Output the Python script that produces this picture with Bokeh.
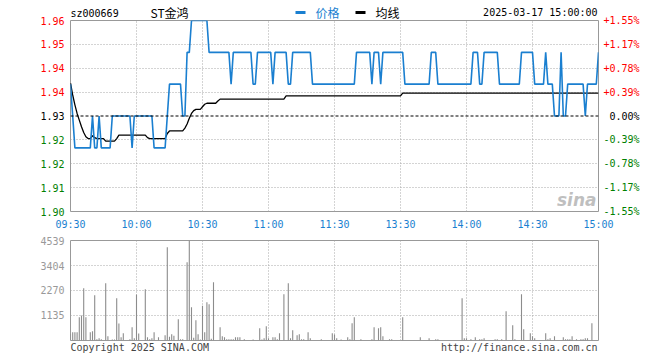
from bokeh.plotting import figure
from bokeh.layouts import column, row
from bokeh.models import Range1d, FixedTicker, Grid, Span
from bokeh.embed import file_html
from bokeh.resources import INLINE
from bokeh.core.properties import value

# ---------------- data ----------------
code = "sz000669"
name = "ST金鸿"
stamp = "2025-03-17 15:00:00"
legend_price = "价格"
legend_avg = "均线"
copyright_txt = "Copyright 2025 SINA.COM"
site_txt = "http://finance.sina.com.cn"
prev_close = 1.93

price_ticks = [1.90, 1.9075, 1.915, 1.9225, 1.93, 1.9375, 1.945, 1.9525, 1.96]
price_labels = ["1.90", "1.91", "1.92", "1.92", "1.93", "1.94", "1.94", "1.95", "1.96"]
pct_labels = ["-1.55%", "-1.17%", "-0.78%", "-0.39%", "0.00%", "+0.39%", "+0.78%", "+1.17%", "+1.55%"]
time_ticks = [0, 30, 60, 90, 120, 150, 180, 210, 240]
time_labels = ["09:30", "10:00", "10:30", "11:00", "11:30", "13:30", "14:00", "14:30", "15:00"]
vol_ticks = [1135, 2270, 3404, 4539]
vol_labels = ["1135", "2270", "3404", "4539"]
vol_max = 4539

price = [
    1.94, 1.93, 1.92, 1.92, 1.92, 1.92, 1.92, 1.92, 1.92, 1.92,
    1.93, 1.92, 1.92, 1.93, 1.92, 1.92, 1.92, 1.92, 1.92, 1.93,
    1.93, 1.93, 1.93, 1.93, 1.93, 1.93, 1.93, 1.93, 1.92, 1.93,
    1.93, 1.93, 1.93, 1.93, 1.93, 1.93, 1.93, 1.93, 1.92, 1.92,
    1.92, 1.92, 1.92, 1.92, 1.93, 1.94, 1.94, 1.94, 1.94, 1.94,
    1.94, 1.93, 1.93, 1.95, 1.95, 1.96, 1.96, 1.96, 1.96, 1.96,
    1.96, 1.96, 1.96, 1.95, 1.95, 1.95, 1.95, 1.95, 1.95, 1.95,
    1.95, 1.95, 1.95, 1.94, 1.95, 1.95, 1.95, 1.95, 1.95, 1.95,
    1.95, 1.95, 1.95, 1.94, 1.94, 1.95, 1.95, 1.95, 1.95, 1.95,
    1.95, 1.95, 1.94, 1.95, 1.95, 1.95, 1.95, 1.95, 1.95, 1.94,
    1.94, 1.95, 1.95, 1.95, 1.95, 1.95, 1.95, 1.95, 1.95, 1.95,
    1.94, 1.94, 1.94, 1.94, 1.94, 1.94, 1.94, 1.94, 1.94, 1.94,
    1.94, 1.94, 1.94, 1.94, 1.94, 1.94, 1.94, 1.94, 1.94, 1.94,
    1.95, 1.95, 1.95, 1.95, 1.95, 1.95, 1.95, 1.94, 1.95, 1.95,
    1.95, 1.94, 1.95, 1.95, 1.95, 1.95, 1.95, 1.95, 1.95, 1.95,
    1.95, 1.95, 1.94, 1.94, 1.94, 1.94, 1.94, 1.94, 1.94, 1.94,
    1.94, 1.94, 1.94, 1.94, 1.95, 1.95, 1.95, 1.94, 1.94, 1.94,
    1.94, 1.94, 1.94, 1.94, 1.94, 1.94, 1.94, 1.94, 1.94, 1.94,
    1.94, 1.94, 1.94, 1.95, 1.95, 1.95, 1.94, 1.94, 1.95, 1.95,
    1.95, 1.95, 1.95, 1.95, 1.95, 1.94, 1.94, 1.94, 1.94, 1.94,
    1.94, 1.94, 1.94, 1.94, 1.94, 1.95, 1.95, 1.95, 1.95, 1.95,
    1.95, 1.94, 1.94, 1.94, 1.94, 1.94, 1.95, 1.94, 1.94, 1.94,
    1.93, 1.93, 1.93, 1.95, 1.93, 1.93, 1.94, 1.94, 1.94, 1.94,
    1.94, 1.94, 1.94, 1.94, 1.93, 1.94, 1.94, 1.94, 1.94, 1.94,
    1.95,
]

avg = [
    1.9403, 1.9366, 1.9335, 1.9308, 1.9287, 1.9266, 1.9248, 1.9235, 1.9229, 1.9229,
    1.9238, 1.9232, 1.9229, 1.9229, 1.9229, 1.9229, 1.9221, 1.9221, 1.9221, 1.9221,
    1.9221, 1.9229, 1.9240, 1.9240, 1.9240, 1.9240, 1.9240, 1.9240, 1.9240, 1.9240,
    1.9240, 1.9240, 1.9240, 1.9240, 1.9240, 1.9232, 1.9229, 1.9229, 1.9229, 1.9229,
    1.9229, 1.9229, 1.9229, 1.9229, 1.9245, 1.9253, 1.9253, 1.9253, 1.9253, 1.9253,
    1.9253, 1.9253, 1.9262, 1.9275, 1.9293, 1.9308, 1.9317, 1.9321, 1.9321, 1.9321,
    1.9329, 1.9337, 1.9340, 1.9340, 1.9340, 1.9340, 1.9340, 1.9347, 1.9353, 1.9353,
    1.9353, 1.9353, 1.9353, 1.9353, 1.9353, 1.9353, 1.9353, 1.9353, 1.9353, 1.9353,
    1.9353, 1.9353, 1.9353, 1.9353, 1.9353, 1.9353, 1.9353, 1.9353, 1.9353, 1.9353,
    1.9353, 1.9353, 1.9353, 1.9353, 1.9353, 1.9353, 1.9353, 1.9353, 1.9363, 1.9363,
    1.9363, 1.9363, 1.9363, 1.9363, 1.9363, 1.9363, 1.9363, 1.9363, 1.9363, 1.9363,
    1.9363, 1.9363, 1.9363, 1.9363, 1.9363, 1.9363, 1.9363, 1.9363, 1.9363, 1.9363,
    1.9363, 1.9363, 1.9363, 1.9363, 1.9363, 1.9363, 1.9363, 1.9363, 1.9363, 1.9363,
    1.9363, 1.9363, 1.9363, 1.9363, 1.9363, 1.9363, 1.9363, 1.9363, 1.9363, 1.9363,
    1.9363, 1.9363, 1.9363, 1.9363, 1.9363, 1.9363, 1.9363, 1.9363, 1.9363, 1.9363,
    1.9363, 1.9372, 1.9372, 1.9372, 1.9372, 1.9372, 1.9372, 1.9372, 1.9372, 1.9372,
    1.9372, 1.9372, 1.9372, 1.9372, 1.9372, 1.9372, 1.9372, 1.9372, 1.9372, 1.9372,
    1.9372, 1.9372, 1.9372, 1.9372, 1.9372, 1.9372, 1.9372, 1.9372, 1.9372, 1.9372,
    1.9372, 1.9372, 1.9372, 1.9372, 1.9372, 1.9372, 1.9372, 1.9372, 1.9372, 1.9372,
    1.9372, 1.9372, 1.9372, 1.9372, 1.9372, 1.9372, 1.9372, 1.9372, 1.9372, 1.9372,
    1.9372, 1.9372, 1.9372, 1.9372, 1.9372, 1.9372, 1.9372, 1.9372, 1.9372, 1.9372,
    1.9372, 1.9372, 1.9372, 1.9372, 1.9372, 1.9372, 1.9372, 1.9372, 1.9372, 1.9372,
    1.9372, 1.9372, 1.9372, 1.9372, 1.9372, 1.9372, 1.9372, 1.9372, 1.9372, 1.9372,
    1.9372, 1.9372, 1.9372, 1.9372, 1.9372, 1.9372, 1.9372, 1.9372, 1.9372, 1.9372,
    1.9372,
]

volume = [
    303, 378, 378, 378, 1059, 1135, 2375, 1059, 0, 378,
    424, 2058, 60, 106, 60, 0, 2602, 197, 0, 45,
    45, 1921, 772, 151, 333, 0, 0, 60, 605, 106,
    2088, 318, 0, 0, 2330, 151, 60, 106, 378, 0,
    151, 0, 0, 242, 4236, 166, 287, 212, 0, 968,
    60, 60, 0, 3556, 4539, 1513, 121, 923, 287, 45,
    1574, 378, 1740, 1649, 75, 2648, 0, 0, 605, 197,
    151, 60, 60, 60, 60, 151, 151, 151, 0, 60,
    0, 0, 0, 45, 0, 0, 560, 45, 106, 650,
    106, 0, 151, 151, 60, 333, 0, 2103, 0, 2602,
    106, 469, 0, 242, 287, 60, 60, 0, 378, 106,
    0, 0, 0, 0, 60, 0, 0, 0, 0, 333,
    270, 106, 0, 45, 0, 0, 151, 60, 787, 1059,
    0, 0, 60, 0, 0, 0, 0, 60, 605, 0,
    560, 605, 197, 0, 0, 60, 60, 0, 0, 0,
    0, 1059, 0, 0, 0, 0, 0, 0, 0, 151,
    0, 0, 0, 106, 0, 0, 60, 60, 0, 0,
    0, 0, 0, 0, 0, 0, 0, 0, 1921, 106,
    106, 0, 60, 0, 151, 0, 60, 60, 106, 0,
    0, 0, 0, 60, 60, 0, 60, 0, 1331, 0,
    0, 696, 60, 0, 0, 2103, 514, 0, 0, 333,
    197, 106, 0, 0, 0, 0, 333, 60, 106, 0,
    197, 0, 0, 0, 151, 60, 60, 60, 197, 0,
    60, 0, 60, 60, 106, 106, 0, 787, 0, 0,
    0,
]

minute = list(range(len(price)))

# ---------------- style / layout constants (pixels) ----------------
MONO = "DejaVu Sans Mono"
CJK = "Noto Sans CJK SC"
BLUE = "#1a7fd0"
GRAY = "#999999"
BAR = "#8c8c8c"
GRID = "#a8a8a8"
RED = "#ff0000"
GREEN = "#008000"

TOTAL_W = 660
LEFT_W = 68          # label column left of the chart
MID_W = 532          # chart column (frame 528 + 2 + 2)
RIGHT_W = 60
FRAME_L, FRAME_R = 70, 598
HEAD_H = 20
PRICE_TOP, PRICE_FRAME, PRICE_BOT = 0, 191, 5
AXIS_H = 18
VOL_TOP, VOL_FRAME, VOL_BOT = 6, 100, 1
FOOT_H = 19


def blank(width, height, x_range=None, y_range=None, left=0, right=0):
    f = figure(width=width, height=height, output_backend="svg", toolbar_location=None,
               x_axis_location=None, y_axis_location=None,
               min_border_left=left, min_border_right=right,
               min_border_top=0, min_border_bottom=0,
               x_range=x_range, y_range=y_range)
    f.grid.visible = False
    f.outline_line_color = None
    f.background_fill_color = "white"
    f.border_fill_color = "white"
    return f


def tcolor(t):
    if t > prev_close + 1e-9:
        return RED
    if t < prev_close - 1e-9:
        return GREEN
    return "black"


xr = Range1d(time_ticks[0], time_ticks[-1])

# ---------------- header (canvas pixel coordinates) ----------------
head = blank(MID_W, HEAD_H, Range1d(FRAME_L, FRAME_R), Range1d(HEAD_H, 0), left=2, right=2)
head.text(x=[70], y=[13], text=[code], text_font=value(MONO), text_font_size="10px",
          text_color="black", text_align="left", text_baseline="middle")
head.text(x=[150], y=[11.6], text=[name], text_font=value(CJK), text_font_size="12px",
          text_color="black", text_align="left", text_baseline="middle")
head.quad(left=[295], right=[305], top=[10.5], bottom=[13.5], fill_color=BLUE, line_color=None)
head.text(x=[315], y=[11.6], text=[legend_price], text_font=value(CJK), text_font_size="12px",
          text_color=BLUE, text_align="left", text_baseline="middle")
head.quad(left=[355], right=[365], top=[10.5], bottom=[13.5], fill_color="black", line_color=None)
head.text(x=[375], y=[11.6], text=[legend_avg], text_font=value(CJK), text_font_size="12px",
          text_color="black", text_align="left", text_baseline="middle")
head.text(x=[597], y=[12.3], text=[stamp], text_font=value(MONO), text_font_size="10px",
          text_color="black", text_align="right", text_baseline="middle")

# ---------------- price panel ----------------
p = figure(width=MID_W, height=PRICE_TOP + PRICE_FRAME + PRICE_BOT, output_backend="svg",
           toolbar_location=None, x_range=xr,
           y_range=Range1d(price_ticks[0], price_ticks[-1]),
           x_axis_location=None, y_axis_location=None,
           min_border_left=2, min_border_right=2,
           min_border_top=PRICE_TOP, min_border_bottom=PRICE_BOT)
p.grid.visible = False
p.outline_line_color = GRAY
p.background_fill_color = "white"
p.border_fill_color = "white"
p.add_layout(Grid(dimension=0, ticker=FixedTicker(ticks=time_ticks[1:-1]),
                  grid_line_color=GRID, grid_line_dash="1 2"))
p.add_layout(Grid(dimension=1, ticker=FixedTicker(ticks=[t for t in price_ticks[1:-1] if t != prev_close]),
                  grid_line_color=GRID, grid_line_dash="1 2"))
p.add_layout(Span(location=prev_close, dimension="width", line_color="black",
                  line_dash="3 2", line_width=1))
p.text(x=[time_ticks[-1]], y=[price_ticks[0]], text=["sina"], x_offset=-2, y_offset=-12,
       text_font=value("DejaVu Sans"), text_font_style="bold italic", text_font_size="17px",
       text_color="#b4b4b4", text_alpha=0.85, text_align="right", text_baseline="middle")
p.line(minute, avg, line_color="black", line_width=1.3)
p.line(minute, price, line_color=BLUE, line_width=1.6)

# label columns sharing the price scale (range extended over the column's borders)
k = (price_ticks[-1] - price_ticks[0]) / PRICE_FRAME
col_h = HEAD_H + PRICE_TOP + PRICE_FRAME + PRICE_BOT
ly0 = price_ticks[0] - PRICE_BOT * k
ly1 = price_ticks[-1] + (HEAD_H + PRICE_TOP) * k
lp = blank(LEFT_W, col_h, Range1d(0, LEFT_W), Range1d(ly0, ly1))
lp.text(x=[64] * len(price_ticks), y=price_ticks, text=price_labels, text_font=value(MONO),
        text_font_size="10px", text_color=[tcolor(t) for t in price_ticks],
        text_align="right", text_baseline="middle")
rp = blank(RIGHT_W, col_h, Range1d(600, 600 + RIGHT_W), Range1d(ly0, ly1))
rp.text(x=[639] * len(price_ticks), y=price_ticks, text=pct_labels, text_font=value(MONO),
        text_font_size="10px", text_color=[tcolor(t) for t in price_ticks],
        text_align="right", text_baseline="middle")

# ---------------- time axis ----------------
ta = figure(width=TOTAL_W, height=AXIS_H, output_backend="svg", toolbar_location=None,
            x_range=xr, y_range=Range1d(0, 1), y_axis_location=None,
            min_border_left=FRAME_L, min_border_right=TOTAL_W - FRAME_R,
            min_border_top=0, min_border_bottom=AXIS_H - 1)
ta.grid.visible = False
ta.outline_line_color = None
ta.background_fill_color = "white"
ta.border_fill_color = "white"
xa = ta.xaxis[0]
xa.ticker = FixedTicker(ticks=time_ticks)
xa.major_label_overrides = {t: l for t, l in zip(time_ticks, time_labels)}
xa.major_label_text_font = MONO
xa.major_label_text_font_size = "10px"
xa.major_label_text_color = BLUE
xa.major_tick_out = 0
xa.major_tick_in = 0
xa.minor_tick_out = 0
xa.minor_tick_in = 0
xa.axis_line_color = None
xa.major_label_standoff = 1

# ---------------- volume panel ----------------
v = figure(width=MID_W, height=VOL_TOP + VOL_FRAME + VOL_BOT, output_backend="svg",
           toolbar_location=None, x_range=xr, y_range=Range1d(0, vol_max),
           x_axis_location=None, y_axis_location=None,
           min_border_left=2, min_border_right=2,
           min_border_top=VOL_TOP, min_border_bottom=VOL_BOT)
v.grid.visible = False
v.outline_line_color = GRAY
v.background_fill_color = "white"
v.border_fill_color = "white"
v.add_layout(Grid(dimension=0, ticker=FixedTicker(ticks=time_ticks[1:-1]),
                  grid_line_color=GRID, grid_line_dash="1 2"))
v.add_layout(Grid(dimension=1, ticker=FixedTicker(ticks=vol_ticks[:-1]),
                  grid_line_color=GRID, grid_line_dash="1 2"))
v.segment(x0=minute, y0=[0] * len(minute), x1=minute, y1=volume,
          line_color=BAR, line_width=1.1)

m = vol_max / VOL_FRAME
vol_h = VOL_TOP + VOL_FRAME + VOL_BOT
lv = blank(LEFT_W, vol_h, Range1d(0, LEFT_W), Range1d(0 - VOL_BOT * m, vol_max + VOL_TOP * m))
lv.text(x=[64] * len(vol_ticks), y=vol_ticks, text=vol_labels, text_font=value(MONO),
        text_font_size="10px", text_color=GRAY, text_align="right", text_baseline="middle")
rv = blank(RIGHT_W, vol_h, Range1d(0, 1), Range1d(0, 1))

# ---------------- footer (canvas pixel coordinates) ----------------
foot = blank(TOTAL_W, FOOT_H, Range1d(FRAME_L, FRAME_R), Range1d(360, 360 - FOOT_H),
             left=FRAME_L, right=TOTAL_W - FRAME_R)
foot.text(x=[70], y=[346.8], text=[copyright_txt], text_font=value(MONO), text_font_size="10px",
          text_color="#444444", text_align="left", text_baseline="middle")
foot.text(x=[597], y=[346.8], text=[site_txt], text_font=value(MONO), text_font_size="10px",
          text_color="#444444", text_align="right", text_baseline="middle")

top_block = row(lp, column(head, p, spacing=0), rp, spacing=0)
vol_block = row(lv, column(v, spacing=0), rv, spacing=0)
layout = column(top_block, ta, vol_block, foot, spacing=0)
open("out.html", "w").write(file_html(layout, INLINE))
